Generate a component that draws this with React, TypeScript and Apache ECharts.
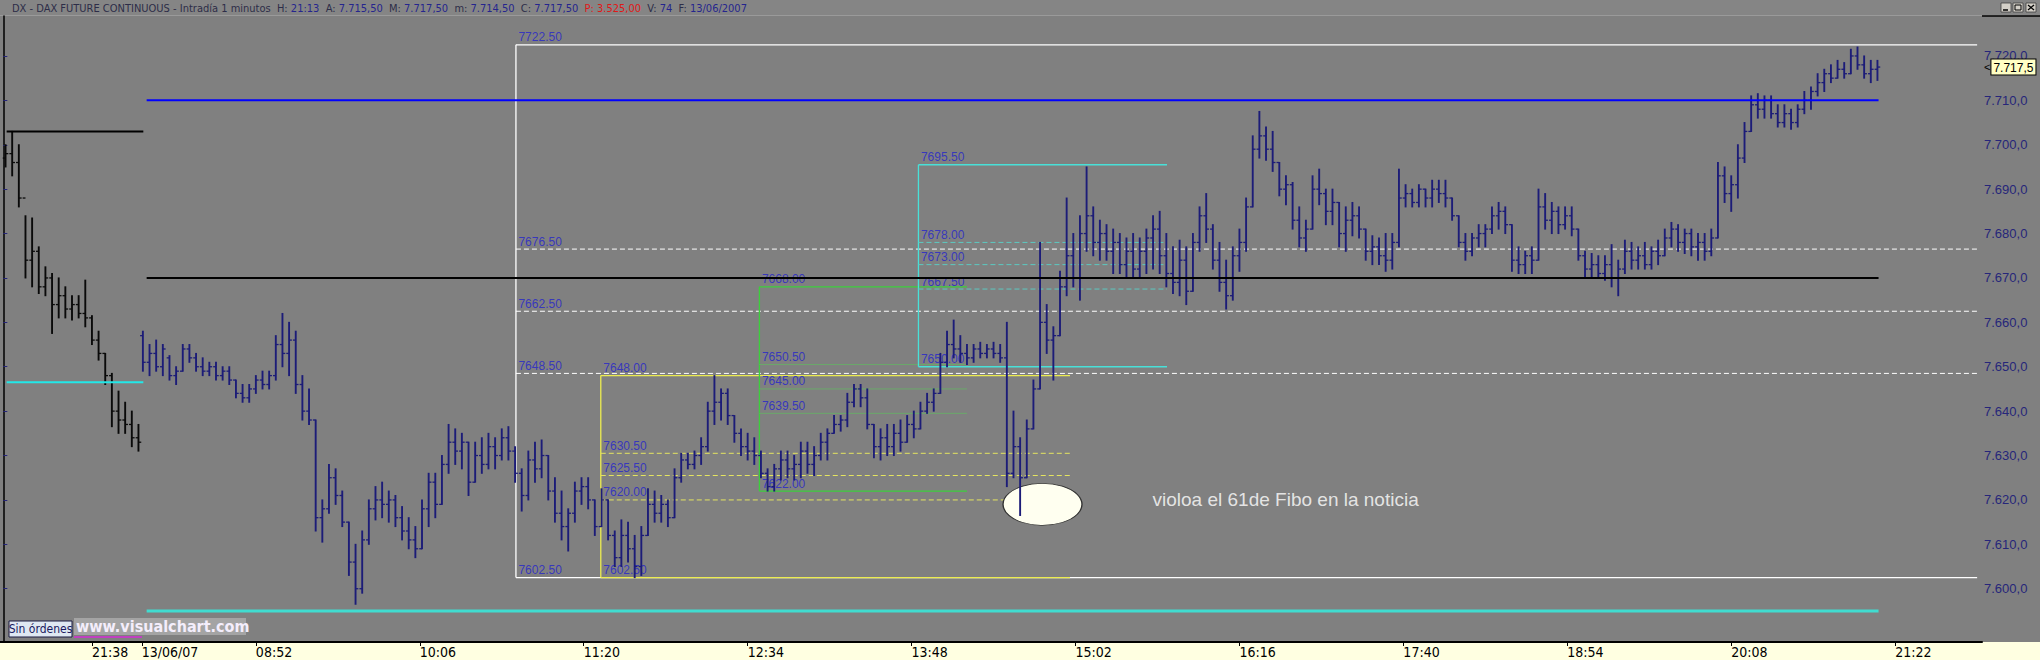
import React, { useEffect, useRef } from 'react';
import * as echarts from 'echarts';

// ---------- price data: 3-minute OHLC samples [open, close, low, high] ----------
const prevDayBars: number[][] = [
  [7697, 7698, 7695, 7700], [7698, 7696, 7693, 7703], [7696, 7688, 7686, 7700], [7688, 7674, 7670, 7684],
  [7674, 7676, 7668, 7683.5], [7676, 7668, 7666.5, 7677], [7668, 7670, 7666, 7672.5], [7670, 7664, 7657.5, 7671],
  [7664, 7666, 7661, 7670], [7666, 7663, 7661, 7668], [7663, 7664, 7660.5, 7666], [7664, 7662, 7661, 7666],
  [7662, 7661, 7659, 7669.5], [7661, 7656, 7655, 7661.5], [7656, 7653, 7651.5, 7658], [7653, 7648, 7646, 7653],
  [7648, 7640, 7636.5, 7648.5], [7640, 7638, 7635, 7644.5], [7638, 7637, 7635, 7642], [7637, 7634, 7632, 7640],
  [7634, 7633, 7631, 7637],
];

const morningBars: number[][] = [
  [7657, 7651, 7649, 7658], [7651, 7653, 7648, 7655], [7653, 7650, 7649, 7656], [7650, 7654, 7648, 7655],
  [7652, 7648, 7647, 7652.5], [7648, 7649, 7646, 7650], [7649, 7654, 7649, 7655], [7654, 7652, 7651, 7655],
  [7652, 7650, 7649, 7653], [7650, 7649, 7648, 7652], [7649, 7650, 7648, 7651], [7650, 7648, 7647, 7651],
  [7648, 7649, 7647, 7650], [7649, 7647, 7646, 7650], [7647, 7644, 7643, 7647], [7644, 7643, 7642, 7646],
  [7643, 7645, 7642, 7646], [7645, 7647, 7644, 7648], [7647, 7646, 7645, 7649], [7646, 7648, 7645, 7649],
  [7648, 7655, 7647, 7657], [7655, 7653, 7650, 7662], [7653, 7656, 7648, 7660], [7656, 7646, 7644, 7658],
  [7646, 7640, 7638, 7648], [7640, 7638, 7637, 7645], [7638, 7616, 7613, 7638], [7616, 7618, 7610.5, 7620],
  [7618, 7625, 7617, 7628], [7625, 7621, 7619, 7627], [7621, 7615, 7614, 7622], [7615, 7606, 7603, 7615],
  [7606, 7600, 7596.5, 7610], [7600, 7611, 7599, 7613], [7611, 7618, 7610, 7620], [7618, 7620, 7615.5, 7623],
  [7620, 7619, 7616, 7624], [7619, 7620, 7615, 7622], [7620, 7616, 7614, 7621], [7616, 7613, 7611, 7618.5],
  [7613, 7611, 7609, 7616], [7611, 7609, 7607, 7614], [7609, 7618, 7609, 7620], [7618, 7624, 7614, 7626],
  [7624, 7619, 7616, 7626], [7619, 7628, 7619, 7630], [7628, 7633, 7626, 7637], [7633, 7631, 7628, 7636],
  [7631, 7633, 7627, 7635], [7633, 7624, 7621, 7633], [7624, 7630, 7624, 7633], [7630, 7628, 7626, 7634],
  [7628, 7632, 7627, 7635], [7632, 7630, 7627, 7634], [7630, 7634, 7629, 7636], [7634, 7631, 7629, 7636.5],
  [7631, 7626, 7624, 7632], [7626, 7621, 7617.5, 7627], [7621, 7629, 7620, 7631], [7629, 7627, 7624, 7633],
  [7627, 7630, 7625, 7633.5], [7630, 7622, 7620, 7630], [7622, 7617, 7615, 7625], [7617, 7614, 7611, 7622],
  [7614, 7617, 7608.5, 7618], [7617, 7622, 7615, 7624], [7622, 7623, 7619, 7625], [7623, 7620, 7618, 7625],
  [7620, 7614, 7612, 7620], [7614, 7620, 7614, 7622.5],
];

const middayBars: number[][] = [
  [7620, 7612, 7611, 7620], [7612, 7607, 7605, 7613], [7607, 7612, 7605, 7615.5], [7612, 7609, 7606, 7615],
  [7609, 7605, 7602.5, 7612], [7605, 7612, 7603, 7614], [7612, 7619, 7612, 7622.5], [7619, 7617, 7615, 7622],
  [7617, 7619, 7615, 7621], [7619, 7616, 7614, 7620], [7616, 7625, 7616, 7627], [7625, 7629, 7624, 7630.5],
  [7629, 7628, 7627, 7630.5], [7628, 7630, 7627, 7631], [7630, 7632, 7628, 7634], [7632, 7640, 7631, 7642],
  [7640, 7642, 7637, 7648], [7642, 7644, 7638, 7645], [7644, 7639, 7637, 7645], [7639, 7635, 7633, 7639],
  [7635, 7632, 7630, 7636], [7632, 7631, 7629, 7635], [7631, 7630, 7628, 7634], [7630, 7626, 7625, 7631],
  [7626, 7623, 7622, 7627], [7623, 7627, 7622, 7628], [7627, 7629, 7624.5, 7631], [7629, 7627, 7625, 7631],
  [7627, 7628, 7624.5, 7630], [7628, 7631, 7625, 7633], [7631, 7628, 7626, 7633], [7628, 7630, 7625.5, 7632],
  [7630, 7633, 7629, 7635], [7633, 7635, 7629, 7636], [7635, 7637, 7635, 7639], [7637, 7638, 7635.5, 7639],
  [7638, 7642, 7636.5, 7644], [7642, 7645, 7641, 7646], [7645, 7643, 7641, 7646], [7643, 7637, 7636, 7645],
  [7637, 7632, 7629.5, 7637], [7632, 7634, 7629, 7636], [7634, 7632, 7630, 7637], [7632, 7635, 7630, 7637],
  [7635, 7633, 7631, 7638], [7633, 7637, 7633, 7639], [7637, 7636, 7634, 7640], [7636, 7640, 7636, 7642],
  [7640, 7642, 7639.5, 7644], [7642, 7644, 7640, 7645], [7644, 7651, 7644, 7653], [7651, 7655, 7650, 7658],
  [7655, 7654, 7652, 7660.5], [7654, 7653, 7651, 7657], [7653, 7652, 7650.5, 7655], [7652, 7654, 7651, 7655],
  [7654, 7653, 7652, 7655.5], [7653, 7654, 7652, 7655], [7654, 7653, 7652, 7655.5], [7653, 7652, 7651, 7655],
  [7652, 7626, 7623, 7660], [7626, 7632, 7625, 7640], [7632, 7625, 7616.5, 7634], [7625, 7636, 7625, 7638],
  [7636, 7645, 7636, 7647], [7645, 7660, 7645, 7678], [7660, 7656, 7653, 7664], [7656, 7657, 7647, 7659],
  [7657, 7668, 7657, 7671.5], [7668, 7675, 7666, 7688],
];

const afternoonBars: number[][] = [
  [7675, 7670, 7668, 7680], [7670, 7680, 7665, 7684], [7680, 7684, 7676, 7695], [7684, 7678, 7675, 7686],
  [7678, 7680, 7674, 7683], [7680, 7676, 7674, 7682], [7676, 7678, 7671, 7681], [7678, 7673, 7671, 7680],
  [7673, 7676, 7670, 7679], [7676, 7672, 7670, 7680], [7672, 7676, 7670, 7679], [7676, 7679, 7671, 7681],
  [7679, 7681, 7672, 7684], [7681, 7675, 7671, 7685], [7675, 7671, 7668, 7680], [7671, 7669, 7666.5, 7677],
  [7669, 7674, 7666, 7678.5], [7674, 7667, 7664, 7677], [7667, 7678, 7667, 7680], [7678, 7684, 7676, 7686],
  [7684, 7681, 7678, 7689], [7681, 7674, 7672, 7682], [7674, 7669, 7667, 7678], [7669, 7666, 7663, 7674],
  [7666, 7675, 7665, 7677], [7675, 7678, 7671.5, 7681], [7678, 7686, 7676, 7688], [7686, 7699, 7686, 7702],
  [7699, 7702, 7697, 7707.5], [7702, 7699, 7696.5, 7704], [7699, 7696, 7694, 7703], [7696, 7690, 7688.5, 7696],
  [7690, 7691, 7686.5, 7693], [7691, 7683, 7681, 7691.5], [7683, 7679, 7677, 7686], [7679, 7681, 7676, 7683],
  [7681, 7690, 7681, 7693], [7690, 7689, 7686.5, 7694.5], [7689, 7685, 7682, 7690], [7685, 7687, 7682, 7690],
  [7687, 7680, 7677, 7687], [7680, 7683, 7676, 7686], [7683, 7684, 7679.5, 7687], [7684, 7681, 7679, 7686],
  [7681, 7676, 7674, 7681], [7676, 7677, 7673, 7679.5], [7677, 7675, 7673, 7679], [7675, 7674, 7671.5, 7680],
  [7674, 7678, 7672, 7680], [7678, 7688, 7677, 7694.5], [7688, 7689, 7686, 7691], [7689, 7687, 7686, 7690],
  [7687, 7690, 7686, 7691], [7690, 7688, 7686, 7690], [7688, 7690, 7686, 7692], [7690, 7689, 7687, 7692],
  [7689, 7688, 7686, 7692], [7688, 7684, 7683, 7688], [7684, 7678, 7677, 7684], [7678, 7676, 7674, 7680],
  [7676, 7679, 7675, 7680], [7679, 7680, 7677, 7682], [7680, 7681, 7677, 7682], [7681, 7684, 7680, 7686],
  [7684, 7685, 7681, 7687], [7685, 7682, 7680, 7686], [7682, 7674, 7671.5, 7682], [7674, 7673, 7671, 7677],
  [7673, 7675, 7671, 7676], [7675, 7674, 7671, 7677],
];

const eveningBars: number[][] = [
  [7674, 7686, 7674, 7690], [7686, 7683, 7681, 7689], [7683, 7685, 7680, 7687], [7685, 7682, 7680, 7686],
  [7682, 7684, 7681, 7686], [7684, 7681, 7679.5, 7686], [7681, 7675, 7674, 7681], [7675, 7672, 7670, 7676],
  [7672, 7673, 7670, 7675.5], [7673, 7671, 7670, 7675], [7671, 7673, 7669.5, 7675], [7673, 7670, 7668, 7677.5],
  [7670, 7672, 7666, 7674], [7672, 7676, 7671, 7678.5], [7676, 7674, 7672, 7678], [7674, 7675, 7672, 7677],
  [7675, 7673, 7672, 7678], [7673, 7676, 7672, 7677], [7676, 7675, 7673, 7678.5], [7675, 7679, 7675, 7681],
  [7679, 7681, 7677, 7682.5], [7681, 7678, 7676, 7682], [7678, 7680, 7675.5, 7681], [7680, 7677, 7675, 7681],
  [7677, 7678, 7674, 7680], [7678, 7676, 7674, 7680], [7676, 7679, 7675, 7681], [7679, 7693, 7679, 7696],
  [7693, 7689, 7687, 7695], [7689, 7691, 7685, 7693], [7691, 7697, 7688, 7700], [7697, 7703, 7696, 7705],
  [7703, 7709, 7703, 7711], [7709, 7708, 7706, 7711.5], [7708, 7710, 7706, 7711], [7710, 7707, 7706, 7711],
  [7707, 7705, 7704, 7709], [7705, 7707, 7704, 7709], [7707, 7705, 7703.5, 7708], [7705, 7708, 7704, 7709],
  [7708, 7710, 7707, 7712], [7710, 7712, 7708, 7713], [7712, 7714, 7711, 7716], [7714, 7716, 7712, 7717],
  [7716, 7715, 7714, 7718], [7715, 7717, 7715, 7719], [7717, 7716, 7715, 7718.5], [7716, 7720, 7716, 7721.5],
  [7720, 7718, 7717, 7722], [7718, 7716, 7715, 7720], [7716, 7717, 7714, 7719], [7717, 7717.5, 7714.5, 7719],
];

// bar index (1-minute) at which each session starts, minutes per sample
const prevDayStart = 0;
const todayStart = 62;
const minutesPerSample = 3;

// ---------- axis ticks ----------
const timeTicks = [40, 114, 188, 262, 336, 410, 484, 558, 632, 706, 780, 854];
const timeLabels = ['21:38', '08:52', '10:06', '11:20', '12:34', '13:48', '15:02', '16:16', '17:40', '18:54', '20:08', '21:22'];
const dayBreak = 62.5;
const dayBreakLabel = '13/06/07';
const priceTicks = [7600, 7610, 7620, 7630, 7640, 7650, 7660, 7670, 7680, 7690, 7700, 7710, 7720];
const lastClose = 7717.5;

// ---------- drawn levels ----------
const prevDayHigh = 7703;
const prevDaySupport = 7646.5;
const prevDaySpan = [1.5, 63.2];
const resistanceLevel = 7710;
const pivotLevel = 7670;
const supportLevel = 7595;
const todaySpan = [64.7, 846.5];

// Fibonacci retracements: [high, 61.8, 50, 38.2, low] and [startBar, endBar]
const whiteFibo = [7722.5, 7676.5, 7662.5, 7648.5, 7602.5];
const whiteSpan = [231.4, 891];
const yellowFibo = [7648.0, 7630.5, 7625.5, 7620.0, 7602.5];
const yellowSpan = [269.7, 481.5];
const greenFibo = [7668.0, 7650.5, 7645.0, 7639.5, 7622.0];
const greenSpan = [341.3, 435];
const cyanFibo = [7695.5, 7678.0, 7673.0, 7667.5, 7650.0];
const cyanSpan = [413.1, 525.3];

const noteText = 'violoa el 61de Fibo en la noticia';
const notePoint = [519, 7620];
const ellipsePoint = [469.1, 7619];

const headerTitle = 'DX - DAX FUTURE CONTINUOUS - Intradía 1 minutos';
const headerFields = [
  ['H:', '21:13'], ['A:', '7.715,50'], ['M:', '7.717,50'], ['m:', '7.714,50'], ['C:', '7.717,50'],
  ['P:', '3.525,00'], ['V:', '74'], ['F:', '13/06/2007'],
];

const NARROW = "'Liberation Sans Narrow', 'Arial Narrow', 'DejaVu Sans Condensed', sans-serif";
const SANS = "'Liberation Sans', Arial, sans-serif";
const LABEL_BLUE = '#2424cc';
const CLEAR = 'rgba(0,0,0,0)';

function fmtPrice(v: number) {
  const s = v.toFixed(1);
  const [i, d] = s.split('.');
  return i.replace(/\B(?=(\d{3})+(?!\d))/g, '.') + ',' + d;
}

function toSeriesData(bars: number[][], start: number) {
  return bars.map((b, i) => [start + minutesPerSample * i + 1, b[0], b[1], b[2], b[3]]);
}

function ohlcRender(color: string) {
  return (_params: any, api: any) => {
    const x = api.value(0);
    const o = api.coord([x, api.value(1)]);
    const c = api.coord([x, api.value(2)]);
    const l = api.coord([x, api.value(3)]);
    const h = api.coord([x, api.value(4)]);
    const style = { stroke: color, lineWidth: 1.9 };
    return {
      type: 'group',
      children: [
        { type: 'line', shape: { x1: l[0], y1: l[1] + 0.5, x2: h[0], y2: h[1] - 0.5 }, style },
        { type: 'line', shape: { x1: o[0] - 2.8, y1: o[1], x2: o[0], y2: o[1] }, style: { stroke: color, lineWidth: 1.3 } },
        { type: 'line', shape: { x1: c[0], y1: c[1], x2: c[0] + 2.8, y2: c[1] }, style: { stroke: color, lineWidth: 1.3 } },
      ],
    };
  };
}

function hLine(v: number, span: number[], color: string, width: number, type: any, z: number) {
  return {
    type: 'line', data: [[span[0], v], [span[1], v]], symbol: 'none', silent: true, z,
    lineStyle: { color, width, type }, animation: false,
  };
}
function vLine(x: number, lo: number, hi: number, color: string, width: number, z: number) {
  return {
    type: 'line', data: [[x, lo], [x, hi]], symbol: 'none', silent: true, z,
    lineStyle: { color, width }, animation: false,
  };
}

function fiboSeries(levels: number[], span: number[], solid: string, mid: string, midType: any) {
  const out: any[] = [];
  out.push(vLine(span[0], levels[4], levels[0], solid, 1.3, 1));
  out.push(hLine(levels[0], span, solid, 1.3, 'solid', 1));
  out.push(hLine(levels[4], span, solid, 1.3, 'solid', 1));
  for (let k = 1; k <= 3; k++) out.push(hLine(levels[k], span, mid, 1, midType, 1));
  out.push({
    type: 'scatter', data: levels.map((v) => [span[0], v]), symbolSize: 1, silent: true, z: 2,
    itemStyle: { color: CLEAR },
    label: {
      show: true, position: [3, -1], align: 'left', verticalAlign: 'bottom',
      formatter: (p: any) => p.value[1].toFixed(2), color: LABEL_BLUE, fontSize: 12, fontFamily: SANS,
    },
  });
  return out;
}

export default function App() {
  const ref = useRef<HTMLDivElement>(null);
  useEffect(() => {
    document.body.style.margin = '0';
    const chart = echarts.init(ref.current!, null, { renderer: 'svg' });
    const todayBars = [...morningBars, ...middayBars, ...afternoonBars, ...eveningBars];

    const headerRich = '{t|' + headerTitle + '}' + headerFields
      .map(([k, v]) => (k === 'P:' ? `  {r|${k} ${v}}` : `  {k|${k}} {v|${v}}`)).join('');

    const option: any = {
      animation: false,
      backgroundColor: '#808080',
      grid: { left: 0, right: 58, top: 16, bottom: 18 },
      xAxis: {
        type: 'value', min: -1.5, max: 893.2,
        splitLine: { show: false },
        axisLine: { lineStyle: { color: '#000', width: 2 } },
        axisTick: { customValues: [...timeTicks, dayBreak], length: 4, lineStyle: { color: '#000' } },
        axisLabel: {
          customValues: [...timeTicks, dayBreak],
          formatter: (v: number) => (Math.abs(v - dayBreak) < 0.01 ? dayBreakLabel : timeLabels[timeTicks.indexOf(v)] || ''),
          align: 'left', margin: 3, color: '#000', fontSize: 14, fontFamily: NARROW,
        },
      },
      yAxis: {
        type: 'value', position: 'right', min: 7588, max: 7729, scale: true,
        splitLine: { show: false },
        axisLine: { show: true, lineStyle: { color: '#000', width: 1.5 } },
        axisTick: { show: true, customValues: priceTicks, length: 4, lineStyle: { color: '#26267a' } },
        axisLabel: {
          customValues: priceTicks, formatter: (v: number) => fmtPrice(v),
          color: '#26267a', fontSize: 13, fontFamily: SANS, margin: 2,
        },
      },
      graphic: [
        { type: 'rect', shape: { x: 0, y: 642, width: 2040, height: 18 }, style: { fill: '#ffffe1' }, z: -5, silent: true },
        { type: 'rect', shape: { x: 0, y: 0, width: 2040, height: 15 }, style: { fill: '#858585' }, z: -5, silent: true },
        { type: 'line', shape: { x1: 0, y1: 15.5, x2: 2040, y2: 15.5 }, style: { stroke: '#9a9a9a', lineWidth: 1 }, z: -4, silent: true },
        { type: 'line', shape: { x1: 1982, y1: 16, x2: 2040, y2: 16 }, style: { stroke: '#000', lineWidth: 1.5 }, silent: true },
        {
          type: 'text', x: 12, y: 8, silent: true,
          style: {
            text: headerRich, verticalAlign: 'middle', fontFamily: NARROW, fontSize: 11,
            rich: {
              t: { fill: '#2d2d48', fontFamily: NARROW, fontSize: 11 },
              k: { fill: '#2d2d48', fontFamily: NARROW, fontSize: 11 },
              v: { fill: '#25258e', fontFamily: NARROW, fontSize: 11 },
              r: { fill: '#e01818', fontFamily: NARROW, fontSize: 11 },
            },
          },
        },
        // window buttons
        { type: 'rect', shape: { x: 2001, y: 3, width: 10, height: 9 }, style: { fill: '#d4d0c8', stroke: '#404040', lineWidth: 0.8 }, silent: true },
        { type: 'line', shape: { x1: 2003, y1: 10, x2: 2008, y2: 10 }, style: { stroke: '#000', lineWidth: 1.5 }, silent: true },
        { type: 'rect', shape: { x: 2013, y: 3, width: 10, height: 9 }, style: { fill: '#d4d0c8', stroke: '#404040', lineWidth: 0.8 }, silent: true },
        { type: 'rect', shape: { x: 2015, y: 5, width: 6, height: 5 }, style: { fill: 'none', stroke: '#000', lineWidth: 1 }, silent: true },
        { type: 'rect', shape: { x: 2026, y: 3, width: 10, height: 9 }, style: { fill: '#d4d0c8', stroke: '#404040', lineWidth: 0.8 }, silent: true },
        { type: 'line', shape: { x1: 2028, y1: 5, x2: 2034, y2: 10 }, style: { stroke: '#000', lineWidth: 1.3 }, silent: true },
        { type: 'line', shape: { x1: 2034, y1: 5, x2: 2028, y2: 10 }, style: { stroke: '#000', lineWidth: 1.3 }, silent: true },
        // bottom-left boxes
        { type: 'rect', shape: { x: 9, y: 621, width: 63, height: 16 }, style: { fill: '#dfe8f2', stroke: '#1a1a40', lineWidth: 1 }, silent: true },
        { type: 'text', x: 40.5, y: 629, silent: true, style: { text: 'Sin órdenes', fill: '#1a1a60', fontSize: 12, fontFamily: NARROW, align: 'center', verticalAlign: 'middle' } },
        { type: 'rect', shape: { x: 74, y: 618, width: 172, height: 17 }, style: { fill: '#a4a4a4' }, silent: true },
        { type: 'text', x: 76, y: 626.5, silent: true, style: { text: 'www.visualchart.com', fill: '#f4eefc', fontSize: 16, fontWeight: 'bold', fontFamily: NARROW, verticalAlign: 'middle' } },
        { type: 'line', shape: { x1: 74, y1: 637, x2: 142, y2: 637 }, style: { stroke: '#c040c0', lineWidth: 2 }, silent: true },
      ],
      series: [
        ...fiboSeries(whiteFibo, whiteSpan, '#ffffff', '#ffffff', [5, 3]),
        ...fiboSeries(yellowFibo, yellowSpan, '#ecec50', '#e4e460', [5, 3]),
        ...fiboSeries(greenFibo, greenSpan, '#3ccf3c', '#6aa86a', 'solid'),
        ...fiboSeries(cyanFibo, cyanSpan, '#48e0d8', '#5cc8c0', [5, 3]),
        {
          type: 'scatter', data: [ellipsePoint], symbol: 'circle', symbolSize: [79, 42], silent: true, z: 2,
          itemStyle: { color: '#fffff0', borderColor: '#303030', borderWidth: 1, opacity: 1 },
        },
        {
          type: 'custom', renderItem: ohlcRender('#0a0a0a'), data: toSeriesData(prevDayBars, prevDayStart),
          encode: { x: 0, y: [1, 2, 3, 4] }, z: 3, silent: true,
        },
        {
          type: 'custom', renderItem: ohlcRender('#1c1c78'), data: toSeriesData(todayBars, todayStart),
          encode: { x: 0, y: [1, 2, 3, 4] }, z: 3, silent: true,
          markLine: {
            silent: true, symbol: 'none', animation: false,
            lineStyle: { color: CLEAR, width: 0 },
            data: [{ yAxis: lastClose }],
            label: {
              show: true, position: 'end', distance: 2,
              formatter: '{a|<}{b|' + fmtPrice(lastClose) + '}',
              rich: {
                a: { color: '#000', fontSize: 11, fontFamily: SANS, padding: [0, 1, 0, 0] },
                b: {
                  color: '#000', fontSize: 12, fontFamily: SANS, backgroundColor: '#ffffc4',
                  borderColor: '#000', borderWidth: 1, padding: [2, 2, 1, 2],
                },
              },
            },
          },
        },
        hLine(prevDayHigh, prevDaySpan, '#000000', 2, 'solid', 4),
        hLine(prevDaySupport, prevDaySpan, '#22e8e8', 2, 'solid', 4),
        hLine(resistanceLevel, todaySpan, '#0000ff', 2, 'solid', 4),
        hLine(pivotLevel, todaySpan, '#000000', 2, 'solid', 4),
        hLine(supportLevel, todaySpan, '#40dcd0', 3, 'solid', 4),
        {
          type: 'scatter', data: [notePoint], symbolSize: 1, silent: true, z: 5, itemStyle: { color: CLEAR },
          label: {
            show: true, position: [0, 0.5], align: 'left', verticalAlign: 'middle',
            formatter: noteText, color: '#ffffff', fontSize: 19, fontFamily: SANS,
          },
        },
      ],
    };
    chart.setOption(option);
    return () => chart.dispose();
  }, []);
  return <div ref={ref} style={{ width: 2040, height: 660 }} />;
}
